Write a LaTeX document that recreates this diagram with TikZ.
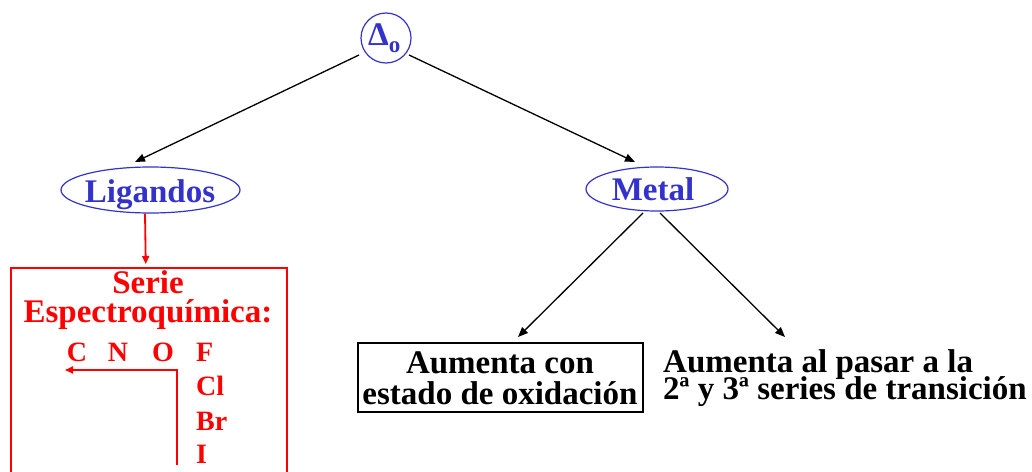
\documentclass[tikz,border=0pt]{standalone}
\usepackage{fontspec}
\setmainfont{Liberation Serif}
\usetikzlibrary{shapes.geometric,arrows.meta}
\definecolor{blueC}{RGB}{51,51,204}
\tikzset{
  lbl/.style={font=\bfseries\fontsize{33}{31}\selectfont, inner sep=0pt},
  sml/.style={font=\bfseries\fontsize{28}{28}\selectfont, inner sep=0pt, text=red},
  conn/.style={draw=black, line width=1.3pt, -{Triangle[length=10pt,width=8pt]}},
  redconn/.style={draw=red, line width=1.8pt, -{Triangle[length=8pt,width=7pt]}},
  blueell/.style={ellipse, draw=blueC, line width=1.2pt, inner sep=0pt},
}
\begin{document}
\begin{tikzpicture}[x=1pt,y=-1pt]
\useasboundingbox (0,0) rectangle (1032,471);
\clip (0,0) rectangle (1032,471);
% top circle
\node[circle, draw=blueC, line width=1.2pt, minimum size=50pt, inner sep=0pt] (delta) at (386,38) {};
\node[anchor=base west, inner sep=0pt, text=blueC, font=\bfseries\fontsize{33}{33}\selectfont] (dtxt) at (368,45) {Δ\raisebox{-7pt}{\fontsize{23}{23}\selectfont o}};
% ellipses
\node[blueell, minimum width=179pt, minimum height=46pt] (lig) at (150.5,190) {};
\node[lbl, text=blueC, anchor=base] (ligt) at (150,202) {Ligandos};
\node[blueell, minimum width=142pt, minimum height=44pt] (met) at (657,189) {};
\node[lbl, text=blueC, anchor=base] (mett) at (653,200) {Metal};
% red box
\node[draw=red, line width=1.5pt, minimum width=276pt, minimum height=240pt, anchor=north west, inner sep=0pt] (box) at (10,267) {};
\node[lbl, text=red, anchor=base] (s1) at (148,293) {Serie};
\node[lbl, text=red, anchor=base] (s2) at (148,322) {Espectroquímica:};
\node[sml, anchor=base] (nC) at (77,361) {C};
\node[sml, anchor=base] (nN) at (118,361) {N};
\node[sml, anchor=base] (nO) at (163,361) {O};
\node[sml, anchor=base west] (nF) at (196,361) {F};
\node[sml, anchor=base west] (nCl) at (196,395) {Cl};
\node[sml, anchor=base west] (nBr) at (196,430) {Br};
\node[sml, anchor=base west] (nI) at (196,463) {I};
\coordinate (rs) at (177,465);
\coordinate (rc) at (177,370);
\coordinate (re) at (65,370);
\draw[redconn] (rs) -- (rc) -- (re);
% bottom boxes
\node[draw=black, line width=1.2pt, minimum width=285pt, minimum height=69pt, inner sep=0pt] (ac) at (500.5,377.5) {};
\node[lbl, anchor=base] (ac1) at (500,373) {Aumenta con};
\node[lbl, anchor=base] (ac2) at (500,404) {estado de oxidación};
\node[lbl, anchor=base west] (rt1) at (663,372) {Aumenta al pasar a la};
\node[lbl, anchor=base west] (rt2) at (663,399) {2ª y 3ª series de transición};
% connectors
\draw[conn] ([shift={(-27,17)}]delta.center) -- ([shift={(-15.5,-28)}]lig.center);
\draw[conn] ([shift={(23,17)}]delta.center) -- ([shift={(-22,-27)}]met.center);
\draw[conn] ([shift={(-14,24)}]met.center) -- ([shift={(17.5,-40.5)}]ac.center);
\draw[conn] ([shift={(3,24)}]met.center) -- ([shift={(122,-35)}]rt1.base west);
\draw[redconn] ([xshift=-5.5]lig.south) -- ([shift={(-3,-3)}]box.north);
\end{tikzpicture}
\end{document}
